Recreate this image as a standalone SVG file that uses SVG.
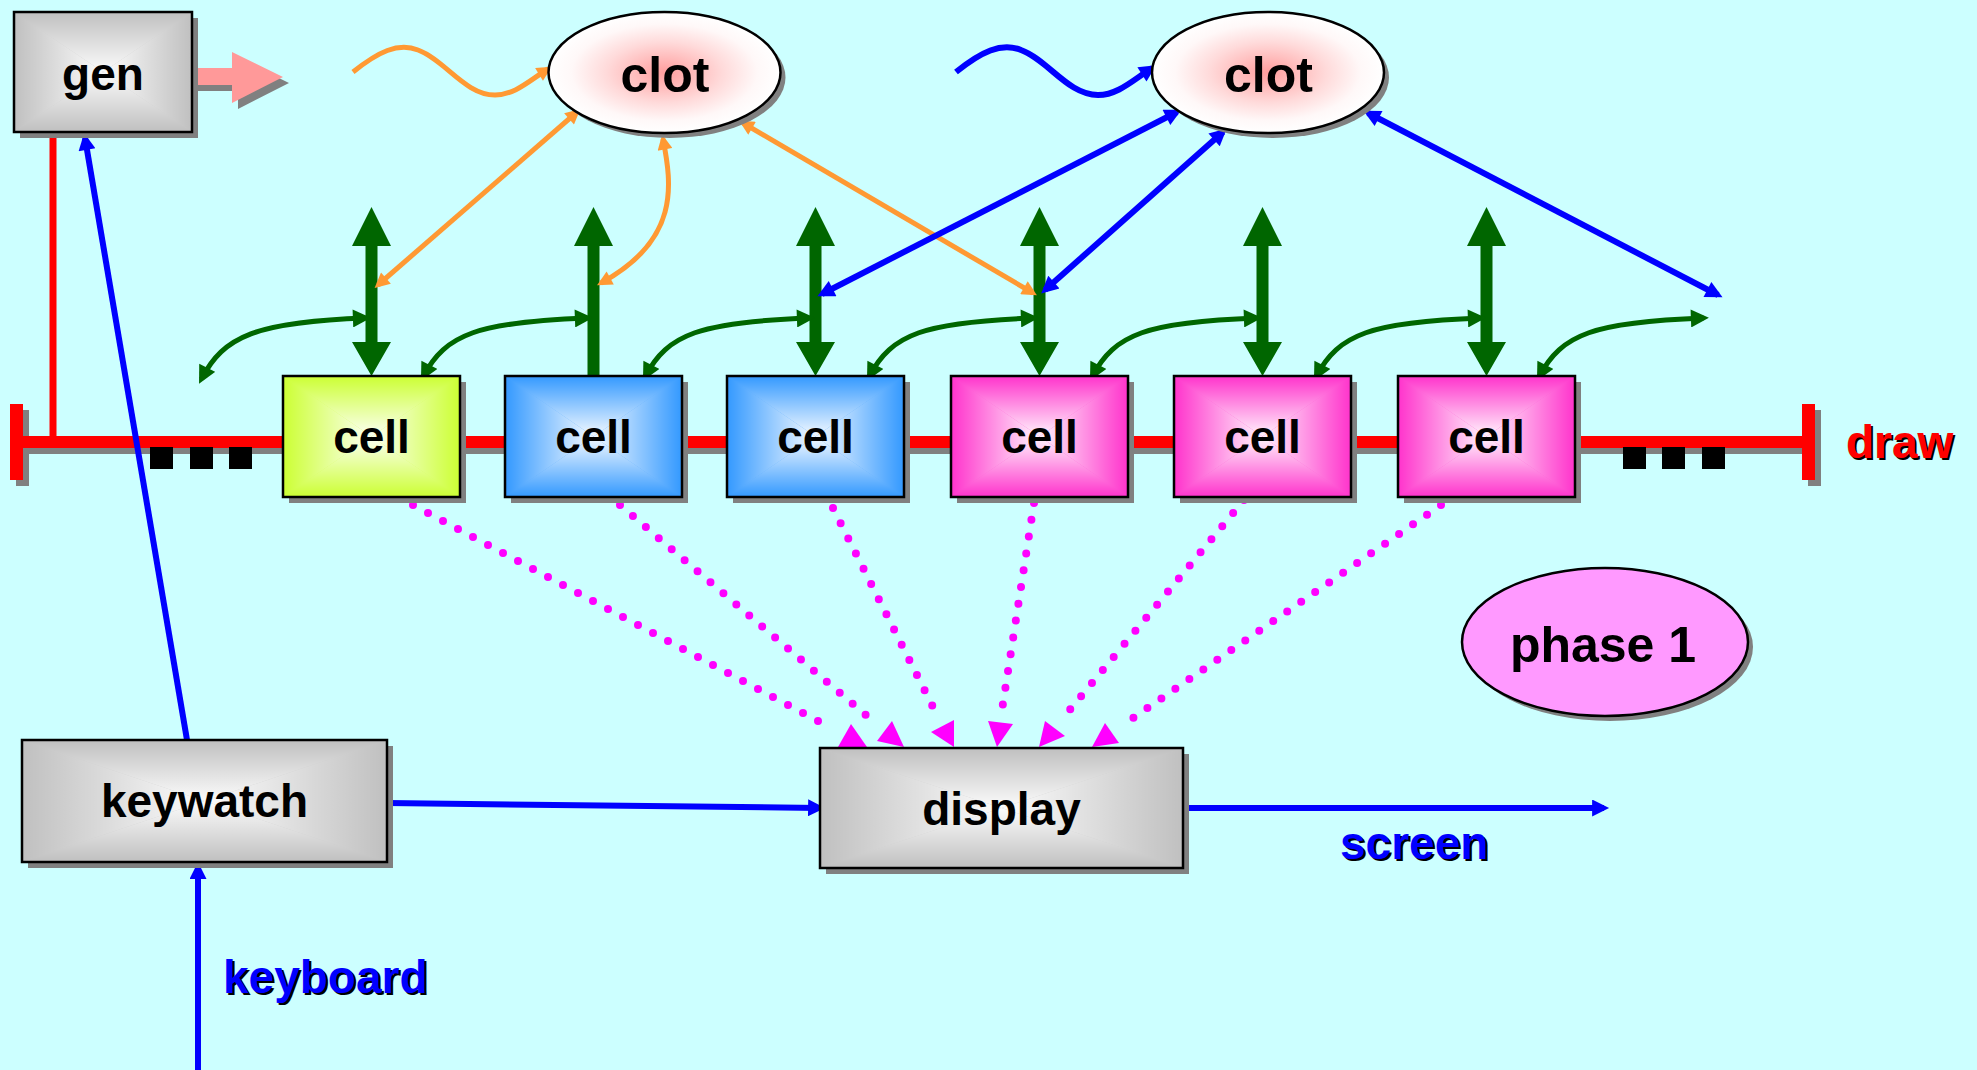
<svg xmlns="http://www.w3.org/2000/svg" width="1977" height="1070" viewBox="0 0 1977 1070">
  <style>
    .lbl { font-family: "Liberation Sans", Arial, Helvetica, sans-serif; font-weight: bold; font-size: 46px; text-anchor: middle; fill: #000; }
    .big { font-size: 50px; }
    .side { font-family: "Liberation Sans", Arial, Helvetica, sans-serif; font-weight: bold; font-size: 46px; }
    .tshadow { fill: #000; }
    .shadow { fill: #808080; }
    .frame { fill: none; stroke: #000; stroke-width: 2.5; }
    .bus { fill: #ff0000; }
    .dots { fill: #000; }
    .green { fill: none; stroke: #006600; stroke-width: 5; marker-start: url(#arrGreen); marker-end: url(#arrGreen); }
    .gshaft { fill: #006600; }
    .orange { fill: none; stroke: #ff9933; stroke-width: 5; }
    .blue { fill: none; stroke: #0000ff; stroke-width: 6; }
    .both-o { marker-start: url(#arrOrange); marker-end: url(#arrOrange); }
    .end-o { marker-end: url(#arrOrange); }
    .both-b { marker-start: url(#arrBlue); marker-end: url(#arrBlue); }
    .end-b { marker-end: url(#arrBlue); }
    .dotted { fill: none; stroke: #ff00ff; stroke-width: 8; stroke-linecap: round; stroke-dasharray: 0 17; }
    .mhead { fill: #ff00ff; }
  </style>
  <defs>
    <marker id="arrOrange" viewBox="0 0 10 10" refX="7" refY="5" markerWidth="18" markerHeight="15" markerUnits="userSpaceOnUse" orient="auto-start-reverse">
      <path d="M0,0 L10,5 L0,10 z" fill="#ff9933"/>
    </marker>
    <marker id="arrBlue" viewBox="0 0 10 10" refX="7" refY="5" markerWidth="21" markerHeight="17" markerUnits="userSpaceOnUse" orient="auto-start-reverse">
      <path d="M0,0 L10,5 L0,10 z" fill="#0000ff"/>
    </marker>
    <marker id="arrGreen" viewBox="0 0 10 10" refX="7" refY="5" markerWidth="19" markerHeight="18" markerUnits="userSpaceOnUse" orient="auto-start-reverse">
      <path d="M0,0 L10,5 L0,10 z" fill="#006600"/>
    </marker>

    <!-- white glow towards the centre of a box, rectangular "from centre" shading -->
    <linearGradient id="glowT" x1="0" y1="0" x2="0" y2="1">
      <stop offset="0" stop-color="#fff" stop-opacity="0"/>
      <stop offset="1" stop-color="#fff" stop-opacity="0.95"/>
    </linearGradient>
    <linearGradient id="glowB" href="#glowT" x1="0" y1="1" x2="0" y2="0"/>
    <linearGradient id="glowL" href="#glowT" x1="0" y1="0" x2="1" y2="0"/>
    <linearGradient id="glowR" href="#glowT" x1="1" y1="0" x2="0" y2="0"/>
    <symbol id="glow" viewBox="0 0 100 100" preserveAspectRatio="none">
      <polygon points="0,0 100,0 50,50" fill="url(#glowT)"/>
      <polygon points="0,100 100,100 50,50" fill="url(#glowB)"/>
      <polygon points="0,0 0,100 50,50" fill="url(#glowL)"/>
      <polygon points="100,0 100,100 50,50" fill="url(#glowR)"/>
    </symbol>

    <radialGradient id="clotFill" cx="0.5" cy="0.5" r="0.5">
      <stop offset="0" stop-color="#ff9e9e"/>
      <stop offset="0.5" stop-color="#ffdada"/>
      <stop offset="0.8" stop-color="#fff8f8"/>
      <stop offset="1" stop-color="#ffffff"/>
    </radialGradient>

    <!-- thick vertical double arrow above each cell -->
    <polygon id="dblArrow" points="0,207 19.5,246 6,246 6,342 19.5,342 0,376 -19.5,342 -6,342 -6,246 -19.5,246"/>
    <polygon id="upArrow" points="0,207 19.5,246 6,246 6,376 -6,376 -6,246 -19.5,246"/>
  </defs>

  <rect x="0" y="0" width="1977" height="1070" fill="#ccffff"/>

  <!-- draw bus -->
  <g id="draw-bus">
    <rect class="shadow" x="29" y="442" width="1779" height="12"/>
    <rect class="shadow" x="16" y="410" width="13" height="76"/>
    <rect class="shadow" x="1808" y="410" width="13" height="76"/>
    <rect class="bus" x="23" y="436" width="1779" height="12"/>
    <rect class="bus" x="10" y="404" width="13" height="76"/>
    <rect class="bus" x="1802" y="404" width="13" height="76"/>
    <line x1="53" y1="132" x2="53" y2="437" stroke="#ff0000" stroke-width="7"/>
    <rect class="dots" x="150" y="447" width="23" height="22"/>
    <rect class="dots" x="190" y="447" width="23" height="22"/>
    <rect class="dots" x="229" y="447" width="23" height="22"/>
    <rect class="dots" x="1623" y="447" width="23" height="22"/>
    <rect class="dots" x="1662" y="447" width="23" height="22"/>
    <rect class="dots" x="1702" y="447" width="23" height="22"/>
    <text class="side tshadow" x="1848" y="460">draw</text>
    <text class="side" x="1846" y="458" fill="#ff0000">draw</text>
  </g>

  <!-- connectors -->
  <g id="connectors">
    <!-- gen output -->
    <polygon class="shadow" points="198,74 238,74 238,58 289,83 238,109 238,91 198,91"/>
    <polygon fill="#ff9999" points="192,68 232,68 232,52 283,77 232,103 232,85 192,85"/>

    <!-- cells to display -->
    <path class="dotted" d="M413,505 L833,729"/>
    <path class="dotted" d="M620,505 L874,722"/>
    <path class="dotted" d="M833,508 L936,713"/>
    <path class="dotted" d="M1034,503 L1002,710"/>
    <path class="dotted" d="M1244,500 L1063,718"/>
    <path class="dotted" d="M1441,505 L1123,725"/>
    <polygon class="mhead" points="851,724 838,747 867,747"/>
    <polygon class="mhead" points="892,721 877,741 904,747"/>
    <polygon class="mhead" points="954,720 931,732 954,747"/>
    <polygon class="mhead" points="988,721 1013,724 997,747"/>
    <polygon class="mhead" points="1045,721 1065,736 1039,747"/>
    <polygon class="mhead" points="1105,723 1119,743 1092,747"/>

    <!-- vertical exchange arrows -->
    <use href="#dblArrow" class="gshaft" x="371.5"/>
    <use href="#upArrow" class="gshaft" x="593.5"/>
    <use href="#dblArrow" class="gshaft" x="815.5"/>
    <use href="#dblArrow" class="gshaft" x="1039.5"/>
    <use href="#dblArrow" class="gshaft" x="1262.5"/>
    <use href="#dblArrow" class="gshaft" x="1486.5"/>

    <!-- neighbour links -->
    <path class="green" d="M201.5,379 C223.5,336 256.5,322 365.5,318"/>
    <path class="green" d="M423.5,376 C445.5,334 478.5,322 587.5,318"/>
    <path class="green" d="M645.5,376 C667.5,334 700.5,322 809.5,318"/>
    <path class="green" d="M869.5,376 C891.5,334 924.5,322 1033.5,318"/>
    <path class="green" d="M1092.5,376 C1114.5,334 1147.5,322 1256.5,318"/>
    <path class="green" d="M1316.5,376 C1338.5,334 1371.5,322 1480.5,318"/>
    <path class="green" d="M1539.5,376 C1561.5,334 1594.5,322 1703.5,318"/>

    <!-- first clot -->
    <path class="orange end-o" d="M353,72 C378,52 398,42 418,50 C445,60 465,95 495,95 C515,95 530,80 548,69"/>
    <path class="orange both-o" d="M577,112 L378,285"/>
    <path class="orange both-o" d="M663,139 C672,185 680,240 601,283"/>
    <path class="orange both-o" d="M743,123 L1033,293"/>

    <!-- second clot -->
    <path class="blue end-b" d="M956,72 C981,52 1001,42 1021,50 C1048,60 1068,95 1098,95 C1118,95 1133,80 1152,68"/>
    <path class="blue both-b" d="M1177,112 L822,294"/>
    <path class="blue both-b" d="M1223,132 L1045,290"/>
    <path class="blue both-b" d="M1368,113 L1718,295"/>

    <!-- keyboard path -->
    <path class="blue end-b" d="M187,740 L85,138" stroke-width="5"/>
    <path class="blue end-b" d="M387,803 L820,808" stroke-width="5"/>
    <path class="blue end-b" d="M1183,808 L1604,808"/>
    <path class="blue end-b" d="M198,1070 L198,867" stroke-width="7"/>

    <text class="side tshadow" x="1342" y="861">screen</text>
    <text class="side" x="1340" y="859" fill="#0000ff">screen</text>
    <text class="side tshadow" x="225" y="995">keyboard</text>
    <text class="side" x="223" y="993" fill="#0000ff">keyboard</text>
  </g>

  <!-- nodes -->
  <g id="gen">
    <rect class="shadow" x="20" y="18" width="178" height="120"/>
    <rect x="14" y="12" width="178" height="120" fill="#c0c0c0"/>
    <use href="#glow" x="14" y="12" width="178" height="120"/>
    <rect class="frame" x="14" y="12" width="178" height="120"/>
    <text class="lbl" x="103" y="90">gen</text>
  </g>

  <g id="clot-1">
    <ellipse class="shadow" cx="669.5" cy="77.5" rx="116" ry="60.5"/>
    <ellipse cx="664.5" cy="72.5" rx="116" ry="60.5" fill="url(#clotFill)" stroke="#000" stroke-width="2.5"/>
    <text class="lbl big" x="665" y="92">clot</text>
  </g>

  <g id="clot-2">
    <ellipse class="shadow" cx="1273" cy="77.5" rx="116" ry="60.5"/>
    <ellipse cx="1268" cy="72.5" rx="116" ry="60.5" fill="url(#clotFill)" stroke="#000" stroke-width="2.5"/>
    <text class="lbl big" x="1268.5" y="92">clot</text>
  </g>

  <g id="cell-1">
    <rect class="shadow" x="289" y="382" width="177" height="121"/>
    <rect x="283" y="376" width="177" height="121" fill="#ccff33"/>
    <use href="#glow" x="283" y="376" width="177" height="121"/>
    <rect class="frame" x="283" y="376" width="177" height="121"/>
    <text class="lbl" x="371.5" y="453">cell</text>
  </g>

  <g id="cell-2">
    <rect class="shadow" x="511" y="382" width="177" height="121"/>
    <rect x="505" y="376" width="177" height="121" fill="#3399ff"/>
    <use href="#glow" x="505" y="376" width="177" height="121"/>
    <rect class="frame" x="505" y="376" width="177" height="121"/>
    <text class="lbl" x="593.5" y="453">cell</text>
  </g>

  <g id="cell-3">
    <rect class="shadow" x="733" y="382" width="177" height="121"/>
    <rect x="727" y="376" width="177" height="121" fill="#3399ff"/>
    <use href="#glow" x="727" y="376" width="177" height="121"/>
    <rect class="frame" x="727" y="376" width="177" height="121"/>
    <text class="lbl" x="815.5" y="453">cell</text>
  </g>

  <g id="cell-4">
    <rect class="shadow" x="957" y="382" width="177" height="121"/>
    <rect x="951" y="376" width="177" height="121" fill="#ff33cc"/>
    <use href="#glow" x="951" y="376" width="177" height="121"/>
    <rect class="frame" x="951" y="376" width="177" height="121"/>
    <text class="lbl" x="1039.5" y="453">cell</text>
  </g>

  <g id="cell-5">
    <rect class="shadow" x="1180" y="382" width="177" height="121"/>
    <rect x="1174" y="376" width="177" height="121" fill="#ff33cc"/>
    <use href="#glow" x="1174" y="376" width="177" height="121"/>
    <rect class="frame" x="1174" y="376" width="177" height="121"/>
    <text class="lbl" x="1262.5" y="453">cell</text>
  </g>

  <g id="cell-6">
    <rect class="shadow" x="1404" y="382" width="177" height="121"/>
    <rect x="1398" y="376" width="177" height="121" fill="#ff33cc"/>
    <use href="#glow" x="1398" y="376" width="177" height="121"/>
    <rect class="frame" x="1398" y="376" width="177" height="121"/>
    <text class="lbl" x="1486.5" y="453">cell</text>
  </g>

  <g id="phase-1">
    <ellipse class="shadow" cx="1610" cy="647" rx="143" ry="74"/>
    <ellipse cx="1605" cy="642" rx="143" ry="74" fill="#ff99ff" stroke="#000" stroke-width="2.5"/>
    <text class="lbl big" x="1603" y="662">phase 1</text>
  </g>

  <g id="keywatch">
    <rect class="shadow" x="28" y="746" width="365" height="122"/>
    <rect x="22" y="740" width="365" height="122" fill="#c0c0c0"/>
    <use href="#glow" x="22" y="740" width="365" height="122"/>
    <rect class="frame" x="22" y="740" width="365" height="122"/>
    <text class="lbl" x="204.5" y="817">keywatch</text>
  </g>

  <g id="display">
    <rect class="shadow" x="826" y="754" width="363" height="120"/>
    <rect x="820" y="748" width="363" height="120" fill="#c0c0c0"/>
    <use href="#glow" x="820" y="748" width="363" height="120"/>
    <rect class="frame" x="820" y="748" width="363" height="120"/>
    <text class="lbl" x="1001.5" y="825">display</text>
  </g>
</svg>
